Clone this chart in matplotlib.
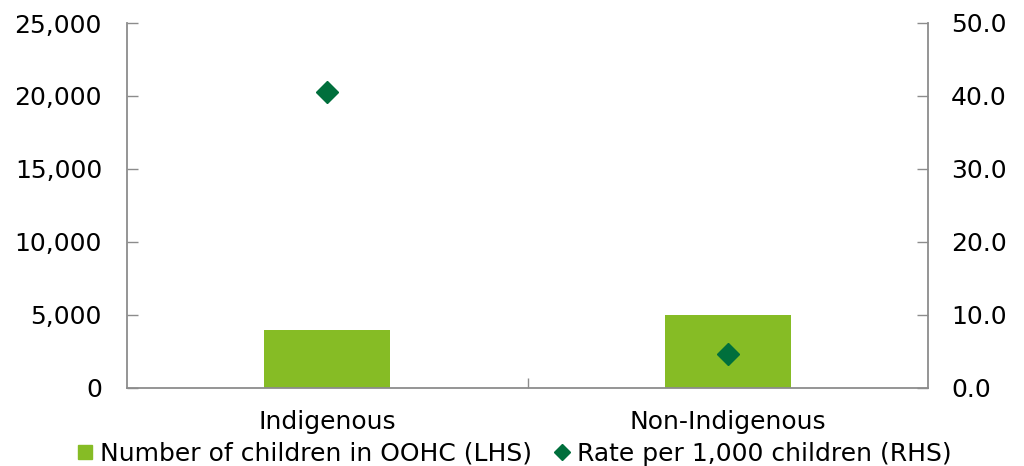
import matplotlib
matplotlib.use('Agg')

import matplotlib.pyplot as plt
from matplotlib.lines import Line2D
from matplotlib.ticker import FuncFormatter, FixedLocator

# children in out-of-home care, by Indigenous status
groups = ['Indigenous', 'Non-Indigenous']
num_children = [3955, 4980]       # left axis
rate_per_1000 = [40.5, 4.6]       # right axis

BAR_GREEN = '#86BC25'
DARK_GREEN = '#006F3C'
AXIS_GREY = '#8C8C8C'
FS = 18

plt.rcParams['font.family'] = ['DejaVu Sans']

fig = plt.figure(figsize=(10.24, 4.66), dpi=100)
ax = fig.add_axes([127 / 1024, 78.3 / 466, 801 / 1024, 364.7 / 466])
ax2 = ax.twinx()

x = list(range(len(groups)))
ax.bar(x, num_children, width=0.315, color=BAR_GREEN, zorder=2)
ax2.plot(x, rate_per_1000, linestyle='none', marker='D', markersize=11,
         color=DARK_GREEN, zorder=3)

ax.set_xlim(-0.5, 1.5)
ax.set_ylim(0, 25000)
ax2.set_ylim(0, 50)
ax.set_yticks(range(0, 25001, 5000))
ax2.set_yticks(range(0, 51, 10))
ax.yaxis.set_major_formatter(FuncFormatter(lambda v, p: f'{v:,.0f}'))
ax2.yaxis.set_major_formatter(FuncFormatter(lambda v, p: f'{v:.1f}'))

# category labels in the middle, small tick between categories
ax.xaxis.set_major_locator(FixedLocator([0.5]))
ax.xaxis.set_minor_locator(FixedLocator(x))
ax.set_xticklabels([''])
ax.set_xticklabels(groups, minor=True)
ax.tick_params(axis='x', which='major', direction='in', length=7,
               color=AXIS_GREY, width=1)
ax.tick_params(axis='x', which='minor', length=0, labelsize=FS, pad=16)

ax.tick_params(axis='y', direction='in', length=8, color=AXIS_GREY,
               width=1, labelsize=FS, pad=18)
ax2.tick_params(axis='y', direction='in', length=8, color=AXIS_GREY,
                width=1, labelsize=FS, pad=16.5)

for a in (ax, ax2):
    a.spines['top'].set_visible(False)
    for s in ('left', 'right', 'bottom'):
        a.spines[s].set_color(AXIS_GREY)
        a.spines[s].set_linewidth(1.3)
ax.spines['right'].set_visible(False)
ax2.spines['left'].set_visible(False)
ax2.spines['bottom'].set_visible(False)

handles = [
    Line2D([], [], linestyle='none', marker='s', markersize=10,
           color=BAR_GREEN, label='Number of children in OOHC (LHS)'),
    Line2D([], [], linestyle='none', marker='D', markersize=8,
           color=DARK_GREEN, label='Rate per 1,000 children (RHS)'),
]
fig.legend(handles=handles, loc='center', bbox_to_anchor=(515 / 1024, 1 - 454 / 466),
           ncol=2, frameon=False, fontsize=FS, handlelength=0.6,
           handletextpad=0.3, columnspacing=0.9, borderpad=0)

fig.savefig('out.png', dpi=100, facecolor='white')
